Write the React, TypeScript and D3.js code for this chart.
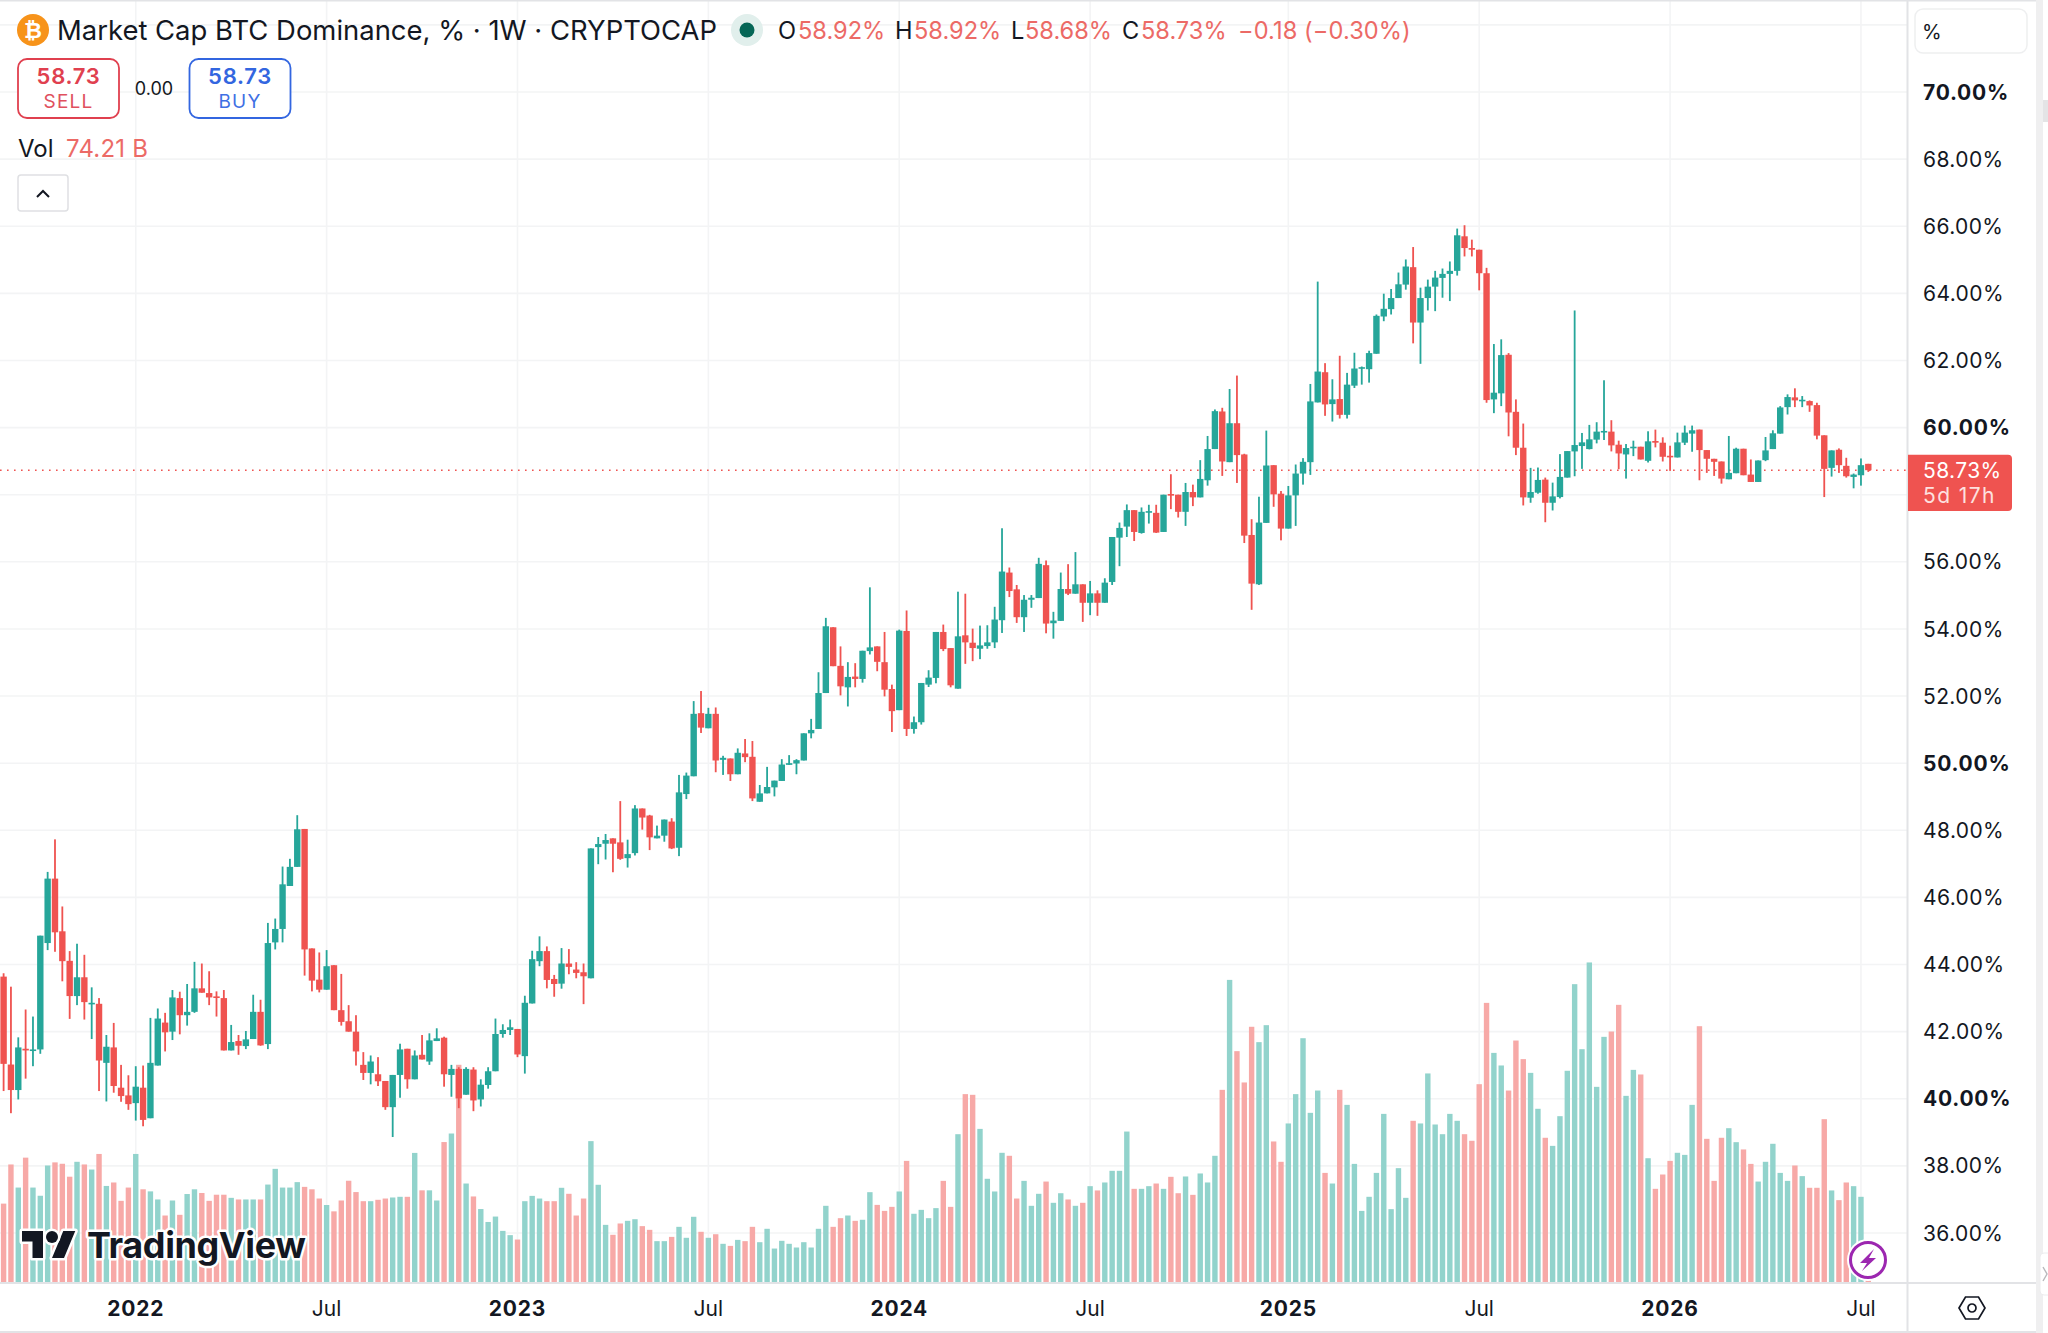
import * as d3 from "d3";

// weekly candles, oldest first (percent)
const opens = [
  43.64,41.02,40.26,41.49,41.44,41.47,44.64,46.56,44.99,44.11,
  43.06,43.62,42.83,42.83,41.07,41.53,40.33,40.10,39.87,40.33,
  39.42,40.99,42.27,42.00,43.00,42.49,42.59,43.29,43.15,43.05,
  43.00,41.44,41.72,41.57,41.78,42.59,41.63,44.66,45.06,46.34,
  46.91,48.04,44.48,43.55,43.25,43.98,42.64,42.31,42.00,41.01,
  40.77,40.73,40.53,39.75,40.71,41.49,40.58,41.31,41.11,41.72,
  41.82,40.71,40.89,40.12,40.87,39.98,40.41,40.82,41.93,42.05,
  42.08,41.27,42.84,44.10,44.40,43.57,43.43,44.03,43.85,43.77,
  43.59,47.50,47.60,47.76,47.64,47.17,47.32,48.65,48.44,47.76,
  47.84,48.26,47.48,49.08,49.61,51.49,51.04,51.47,50.10,50.14,
  49.67,50.29,50.19,48.85,49.10,49.28,49.47,49.95,49.99,50.08,
  50.89,51.02,52.09,54.05,52.90,52.26,52.58,52.51,53.34,53.48,
  53.01,52.21,51.58,53.94,51.02,51.22,52.34,52.54,53.91,53.43,
  52.22,53.81,53.59,53.41,53.49,53.60,54.26,55.68,55.18,54.35,
  54.87,54.92,55.90,54.17,54.24,55.19,55.05,55.33,54.78,55.06,
  54.78,55.40,56.72,57.05,57.54,56.86,57.47,57.46,56.89,58.02,
  58.00,57.49,58.08,57.92,58.43,59.36,60.48,58.97,60.13,59.20,
  56.80,55.33,57.16,58.88,58.03,56.99,57.98,58.63,58.97,60.75,
  61.65,60.70,60.85,60.38,61.25,61.76,61.74,62.20,63.31,63.53,
  63.86,64.26,64.78,63.13,63.86,64.20,64.46,64.58,64.67,65.70,
  65.35,65.30,64.60,60.84,61.02,62.17,60.47,59.40,57.91,58.06,
  58.45,57.76,57.93,58.51,59.29,59.45,59.36,59.64,59.87,59.88,
  59.49,59.20,59.39,59.43,59.01,59.60,59.55,59.16,59.11,59.55,
  59.82,59.94,59.33,59.07,58.99,58.46,58.64,59.37,58.60,58.38,
  59.03,59.36,59.82,60.61,60.90,60.79,60.79,60.67,59.77,58.80,
  59.34,58.86,58.53,58.58,58.92,
];
const highs = [
  43.74,43.34,41.83,42.66,42.45,44.86,46.76,47.73,45.73,44.40,
  44.62,44.29,43.32,43.00,41.90,42.26,41.01,40.70,40.97,40.99,
  42.41,42.69,42.56,43.24,43.19,43.42,44.08,44.03,43.80,43.20,
  43.24,42.20,41.90,42.02,43.10,42.95,45.24,45.37,46.92,47.15,
  48.45,48.04,44.48,44.36,44.43,43.98,43.72,42.79,42.49,41.39,
  41.29,41.24,40.53,40.71,41.64,41.49,41.44,41.90,41.95,42.10,
  41.85,41.01,40.94,40.94,40.94,40.58,40.94,42.39,42.22,42.36,
  42.08,43.07,44.41,44.84,44.54,43.69,44.49,44.46,44.07,44.03,
  47.46,47.80,47.89,47.76,48.87,47.72,48.75,48.65,48.46,48.14,
  48.32,48.36,49.65,49.72,51.85,52.15,51.65,51.66,50.22,50.14,
  50.44,50.72,50.66,49.35,49.89,49.48,50.12,50.24,50.12,50.89,
  51.32,52.71,54.33,54.05,53.48,53.01,52.98,53.35,55.24,53.48,
  53.91,52.34,53.98,54.55,51.39,52.39,52.77,53.91,54.13,53.43,
  55.11,55.05,54.01,54.10,54.11,54.66,57.00,55.83,55.31,55.01,
  55.01,56.12,56.04,54.51,55.68,55.93,56.29,55.33,55.43,55.15,
  55.51,56.74,57.17,57.71,57.54,57.62,57.70,57.70,58.00,58.61,
  58.00,58.35,58.30,59.03,59.75,60.54,60.59,61.15,61.55,59.22,
  57.27,57.94,59.91,58.88,58.11,58.26,58.90,59.09,61.30,64.35,
  61.92,61.44,62.14,61.63,62.23,61.82,62.29,63.37,63.99,64.13,
  64.62,65.01,65.38,64.17,64.41,64.67,64.74,64.95,65.93,66.03,
  65.60,65.30,64.76,62.49,62.63,62.22,60.84,60.12,58.80,58.81,
  58.51,58.36,59.21,59.30,63.49,59.84,60.08,60.16,61.41,60.22,
  59.61,59.51,59.61,59.43,59.89,59.94,59.71,59.46,59.85,60.06,
  60.06,59.94,59.33,59.07,58.99,59.75,59.40,59.37,59.05,59.02,
  59.72,59.92,60.64,60.99,61.17,60.94,60.81,60.74,59.77,59.32,
  59.38,59.10,58.63,59.08,58.92,
];
const lows = [
  40.23,39.57,39.98,40.60,40.97,41.34,44.43,44.38,43.50,42.38,
  42.79,42.36,41.78,40.23,39.92,40.18,39.91,39.67,39.35,39.18,
  39.42,40.99,41.41,41.75,41.92,42.18,42.56,43.16,42.79,42.45,
  41.44,41.44,41.31,41.48,41.78,41.58,41.48,44.45,44.66,46.34,
  46.91,43.67,43.20,43.17,43.25,42.64,42.18,42.00,40.99,40.56,
  40.43,40.38,39.67,38.86,40.03,40.30,40.58,41.17,41.01,41.72,
  40.36,40.06,39.72,40.12,39.63,39.77,40.30,40.82,41.82,41.90,
  41.24,40.75,42.84,43.95,43.29,43.04,43.28,43.71,43.59,42.82,
  43.59,46.99,47.13,46.75,47.12,46.89,47.25,48.02,47.41,47.76,
  47.66,47.44,47.23,48.93,49.61,50.90,51.04,49.73,49.65,49.47,
  49.67,50.03,48.87,48.85,49.10,49.01,49.47,49.95,49.67,50.08,
  50.74,51.02,52.09,52.89,52.02,51.69,52.26,52.40,53.24,52.74,
  51.99,50.93,51.58,50.81,50.88,51.15,52.27,52.38,53.34,52.26,
  52.22,52.96,53.04,53.10,53.41,53.43,53.88,54.95,54.18,53.91,
  54.63,54.92,53.87,53.71,54.24,55.01,55.05,54.21,54.41,54.39,
  54.78,55.31,55.87,56.74,56.62,56.84,57.14,56.86,56.89,57.57,
  57.32,57.07,57.66,57.92,58.27,59.36,58.56,58.97,58.35,56.56,
  54.57,55.31,57.16,57.64,56.64,56.99,57.07,58.30,58.59,60.75,
  60.35,60.18,60.27,60.27,61.18,61.28,61.34,62.20,63.17,63.37,
  63.86,64.11,62.51,61.90,63.49,63.47,63.87,63.77,64.53,65.10,
  65.10,64.09,60.74,60.43,60.64,59.74,59.18,57.68,57.76,58.03,
  57.18,57.53,57.89,58.51,58.55,58.77,59.35,59.53,59.63,59.29,
  58.76,58.48,59.15,59.05,58.96,59.41,58.99,58.71,59.11,59.48,
  59.28,58.43,58.65,58.56,58.33,58.46,58.64,58.58,58.38,58.38,
  59.00,59.36,59.82,60.39,60.61,60.61,60.47,59.65,57.93,58.54,
  58.65,58.51,58.19,58.27,58.68,
];
const closes = [
  41.04,40.26,41.53,41.44,41.47,44.86,46.56,44.96,44.10,43.06,
  43.62,42.88,42.86,41.14,41.55,40.38,40.08,39.84,40.36,39.37,
  41.07,42.39,41.98,43.02,42.49,42.59,43.29,43.16,43.02,43.01,
  41.44,41.69,41.58,41.77,42.59,41.59,44.64,45.06,46.39,46.91,
  48.03,44.45,43.52,43.25,43.95,42.64,42.29,42.00,41.41,40.77,
  41.11,40.52,39.75,40.71,41.47,40.58,41.29,41.17,41.74,41.80,
  40.73,40.89,40.01,40.89,39.95,40.42,40.82,41.93,42.05,42.13,
  41.32,42.86,44.16,44.40,43.54,43.42,44.03,43.93,43.75,43.65,
  47.46,47.59,47.71,47.60,47.15,47.29,48.65,48.38,47.79,47.84,
  48.32,47.46,49.13,49.63,51.47,51.06,51.47,50.08,50.16,49.67,
  50.31,50.18,48.95,49.10,49.29,49.48,49.96,50.00,50.09,50.89,
  50.99,52.09,54.08,52.89,52.29,52.57,52.51,53.35,53.45,53.02,
  52.19,51.55,53.95,51.02,51.22,52.39,52.55,53.91,53.40,52.32,
  53.78,53.60,53.43,53.51,53.60,54.28,55.71,55.13,54.35,54.87,
  54.93,55.94,54.16,54.25,55.19,55.05,55.33,54.78,55.06,54.78,
  55.38,56.74,57.01,57.54,56.89,57.49,57.51,56.87,58.00,57.99,
  57.49,58.08,57.92,58.47,59.36,60.49,58.99,60.13,59.18,56.78,
  55.35,57.17,58.87,58.01,56.99,57.98,58.63,58.98,60.78,61.67,
  60.69,60.84,60.38,61.28,61.76,61.80,62.22,63.33,63.54,63.86,
  64.27,64.80,63.13,63.86,64.20,64.47,64.58,64.67,65.73,65.35,
  65.30,64.60,60.82,61.04,62.16,60.45,59.40,57.92,58.08,58.44,
  57.76,57.95,58.53,59.30,59.48,59.56,59.65,59.88,59.90,59.47,
  59.23,59.39,59.43,59.05,59.59,59.55,59.13,59.13,59.56,59.85,
  59.92,59.33,59.07,58.98,58.48,58.65,59.37,58.58,58.38,59.02,
  59.32,59.83,60.60,60.91,60.81,60.83,60.66,59.76,58.77,59.32,
  58.88,58.55,58.60,58.88,58.73,
];
// no volume axis in the chart, so these are relative bar heights
const volumes = [
  68.3,102.2,82.2,108.1,82.2,75.1,101.3,104.0,102.8,91.6,
  104.5,102.2,97.8,111.3,83.6,86.6,70.7,82.2,111.3,80.7,
  78.9,71.9,58.0,71.0,58.6,76.6,80.7,77.5,70.7,76.0,
  76.0,73.3,71.9,71.9,71.9,71.9,84.8,98.4,82.2,82.2,
  86.9,82.8,80.7,72.7,67.1,61.6,71.0,88.1,78.3,70.4,
  70.4,71.6,72.7,73.6,74.2,74.2,112.2,79.8,79.8,71.0,
  121.6,129.0,188.5,85.7,74.5,63.6,52.4,57.1,44.7,41.0,
  37.2,70.4,75.0,72.7,70.4,70.4,82.0,76.8,58.0,72.7,
  122.4,84.6,49.9,41.3,51.1,53.4,54.8,48.8,45.6,35.8,
  35.8,39.5,48.2,38.7,56.9,43.9,38.7,41.8,33.5,31.7,
  36.9,35.8,48.2,34.9,46.5,29.4,36.1,33.5,30.3,34.9,
  30.3,46.5,66.4,48.2,55.7,58.0,53.4,54.3,78.2,67.2,
  62.0,65.5,78.8,105.3,59.5,62.9,55.7,64.4,88.0,65.5,
  128.4,163.1,162.5,133.0,89.8,78.8,112.3,109.7,72.7,88.0,
  66.4,76.8,87.4,69.0,77.3,71.9,66.4,69.0,83.4,79.7,
  86.6,96.7,96.7,130.7,81.1,81.1,83.4,85.7,81.1,91.5,
  77.3,91.8,75.9,94.4,86.6,109.7,166.8,262.0,200.3,173.2,
  221.4,208.1,222.8,122.1,104.5,137.7,163.1,211.5,146.9,166.2,
  94.9,85.7,166.8,153.8,102.7,62.0,74.2,94.9,146.0,63.5,
  99.0,73.3,140.0,137.7,181.0,136.8,128.4,146.0,140.0,128.4,
  122.7,171.7,242.1,198.8,187.9,166.2,209.5,193.4,181.5,150.4,
  125.3,118.3,144.0,183.3,258.3,202.0,277.1,169.4,212.7,217.3,
  240.4,161.6,184.1,180.1,107.6,81.1,93.5,105.3,112.3,110.5,
  153.8,221.9,124.4,88.0,125.3,133.6,121.5,115.2,102.7,87.4,
  104.5,120.1,94.9,88.0,101.3,92.1,82.0,82.0,141.4,79.7,
  71.3,86.6,83.4,74.2,24,
];

const priceTicks = [72, 70, 68, 66, 64, 62, 60, 58, 56, 54, 52, 50, 48, 46, 44, 42, 40, 38, 36];
const boldPrices = [70, 60, 50, 40];
// 72 sits above the visible labels and 58 is covered by the last price tag
const hiddenPriceLabels = [72, 58];
const timeTicks = [
  { week: 18, label: "2022", bold: true },
  { week: 44, label: "Jul", bold: false },
  { week: 70, label: "2023", bold: true },
  { week: 96, label: "Jul", bold: false },
  { week: 122, label: "2024", bold: true },
  { week: 148, label: "Jul", bold: false },
  { week: 175, label: "2025", bold: true },
  { week: 201, label: "Jul", bold: false },
  { week: 227, label: "2026", bold: true },
  { week: 253, label: "Jul", bold: false },
];
const lastPrice = 58.73;

const UP = "#26a69a";
const DOWN = "#ef5350";
const UP_VOL = "#92d3cc";
const DOWN_VOL = "#f7a9a7";
const GRID = "#f3f4f5";
const BORDER = "#e2e3e6";
const INK = "#131722";
const SOFT_RED = "#ec6a66";
const FONT = "Inter, 'Noto Sans', sans-serif";

const paneRight = 1907.5;
const paneBottom = 1282.5;

const x = d3.scaleLinear().domain([0, opens.length - 1]).range([3.6, 1868.3]);
const y = d3.scaleLinear().domain([70, 36]).range([92, 1233]);
const yVol = d3.scaleLinear().domain([0, 300]).range([paneBottom, paneBottom - 346.5]);

const bodyWidth = 6.4;
const volWidth = 5.4;

export default function App() {
  return (
    <svg
      width={2048}
      height={1333}
      viewBox="0 0 2048 1333"
      style={{ position: "absolute", left: 0, top: 0, display: "block", background: "#fff" }}
      fontFamily={FONT}
    >
      <defs>
        <clipPath id="pane">
          <rect x={0} y={0} width={paneRight} height={paneBottom} />
        </clipPath>
      </defs>

      {/* grid */}
      <g stroke={GRID} strokeWidth={1.6}>
        {priceTicks.map((p) => (
          <line key={p} x1={0} x2={paneRight} y1={y(p)} y2={y(p)} />
        ))}
        {timeTicks.map((t) => (
          <line key={t.week} x1={x(t.week)} x2={x(t.week)} y1={0} y2={paneBottom} />
        ))}
      </g>

      {/* volume */}
      <g clipPath="url(#pane)">
        {volumes.map((v, i) => (
          <rect
            key={i}
            x={x(i) - volWidth / 2}
            width={volWidth}
            y={yVol(v)}
            height={paneBottom - yVol(v)}
            fill={closes[i] >= opens[i] ? UP_VOL : DOWN_VOL}
          />
        ))}
      </g>

      {/* last price line */}
      <line
        x1={0}
        x2={paneRight}
        y1={y(lastPrice)}
        y2={y(lastPrice)}
        stroke={DOWN}
        strokeWidth={1.5}
        strokeDasharray="1.6 5.4"
      />

      {/* candles */}
      <g clipPath="url(#pane)">
        {opens.map((o, i) => {
          const c = closes[i];
          const color = c >= o ? UP : DOWN;
          const top = y(Math.max(o, c));
          const bottom = y(Math.min(o, c));
          return (
            <g key={i} fill={color}>
              <rect x={x(i) - 0.9} width={1.8} y={y(highs[i])} height={y(lows[i]) - y(highs[i])} />
              <rect x={x(i) - bodyWidth / 2} width={bodyWidth} y={top} height={Math.max(bottom - top, 1.6)} />
            </g>
          );
        })}
      </g>

      {/* TradingView mark */}
      <g stroke="#fff" strokeWidth={5} strokeLinejoin="round" style={{ paintOrder: "stroke" }} fill="#131722">
        <g transform="translate(22,1225) scale(1.5)" strokeWidth={3.4}>
          <path d="M14 22H7V11H0V4h14v18zM28 22h-8l7.5-18h8L28 22z" />
          <circle cx={20} cy={8} r={4} />
        </g>
        <text x={87} y={1258} fontSize={36} fontWeight={700} letterSpacing={-0.4} fontFamily="Inter, sans-serif">
          TradingView
        </text>
      </g>

      {/* lightning badge */}
      <g transform="translate(1868,1260)">
        <circle r={21} fill="#fff" />
        <circle r={17.5} fill="#fff" stroke="#9c27b0" strokeWidth={3} />
        <path d="M6 -11 L-8 3 L-1 3 L-6 11 L8 -2 L1 -2 Z" fill="#9c27b0" />
      </g>

      {/* frame */}
      <g stroke={BORDER} strokeWidth={2} fill="none">
        <line x1={paneRight} x2={paneRight} y1={0} y2={1332} />
        <line x1={0} x2={2036} y1={paneBottom + 0.5} y2={paneBottom + 0.5} />
        <line x1={0} x2={2036} y1={1332} y2={1332} />
        <line x1={0} x2={2036} y1={0.5} y2={0.5} />
      </g>
      <rect x={2036} y={0} width={7} height={1333} fill="#efeff0" />
      <rect x={2043} y={100} width={5} height={22} fill="#e4e4e6" />
      <rect x={2040} y={1253} width={12} height={42} rx={4} fill="#fff" stroke="#ececee" />
      <path d="M2043 1267 L2047 1274 L2043 1281" fill="none" stroke="#b8b8bc" strokeWidth={1.4} />

      {/* price axis */}
      <rect x={1915} y={9} width={112} height={44} rx={8} fill="#fff" stroke="#eeeff0" strokeWidth={1.5} />
      <text x={1922} y={39} fontSize={20} fill={INK}>%</text>
      {priceTicks.filter((p) => !hiddenPriceLabels.includes(p)).map((p) => {
        const bold = boldPrices.includes(p);
        return (
          <text
            key={p}
            x={1923}
            y={y(p)}
            dy="0.36em"
            fontSize={21}
            fontWeight={bold ? 700 : 400}
            fill={INK}
            letterSpacing={bold ? 0.75 : 0.4}
          >
            {p.toFixed(2)}%
          </text>
        );
      })}
      <path
        d={`M1908 ${y(lastPrice) - 15.5} H2008 a4 4 0 0 1 4 4 V507 a4 4 0 0 1 -4 4 H1908 Z`}
        fill={DOWN}
      />
      <text x={1923} y={y(lastPrice)} dy="0.36em" fontSize={21} fill="#fff" letterSpacing={0.4}>
        {lastPrice.toFixed(2)}%
      </text>
      <text x={1923} y={503} fontSize={21} fill="#fde0df" letterSpacing={1.4}>5d 17h</text>

      {/* time axis */}
      {timeTicks.map((t) => (
        <text
          key={t.week}
          x={x(t.week)}
          y={1316}
          textAnchor="middle"
          fontSize={21}
          fontWeight={t.bold ? 700 : 400}
          fill={INK}
          letterSpacing={t.bold ? 0.8 : 0}
        >
          {t.label}
        </text>
      ))}

      {/* settings */}
      <g transform="translate(1972,1308)" fill="none" stroke={INK} strokeWidth={1.7}>
        <path d="M-13 0 L-6.5 -11 L6.5 -11 L13 0 L6.5 11 L-6.5 11 Z" />
        <circle r={4} />
      </g>

      {/* header */}
      <circle cx={33} cy={30} r={16} fill="#f7931a" />
      <text x={33} y={38} textAnchor="middle" fontSize={22} fontWeight={700} fill="#fff" fontFamily="'DejaVu Sans', sans-serif">
        ₿
      </text>
      <text x={57} y={40} fontSize={27.45} fill={INK}>
        Market Cap BTC Dominance, % · 1W · CRYPTOCAP
      </text>
      <ellipse cx={747} cy={30} rx={16} ry={16} fill="#e1efec" />
      <circle cx={747} cy={30} r={7.5} fill="#056656" />

      {[
        { k: "O", kx: 778, v: "58.92%", vx: 798 },
        { k: "H", kx: 895, v: "58.92%", vx: 914 },
        { k: "L", kx: 1011, v: "58.68%", vx: 1025 },
        { k: "C", kx: 1122, v: "58.73%", vx: 1141 },
      ].map((d) => (
        <g key={d.k} fontSize={23.6}>
          <text x={d.kx} y={39} fill={INK}>{d.k}</text>
          <text x={d.vx} y={39} fill={SOFT_RED}>{d.v}</text>
        </g>
      ))}
      <text x={1238} y={39} fontSize={23.6} fill={SOFT_RED} letterSpacing={0.1}>−0.18 (−0.30%)</text>

      <rect x={18} y={59} width={101} height={59} rx={9} fill="#fff" stroke="#e0404f" strokeWidth={1.8} />
      <text x={68.5} y={84} textAnchor="middle" fontSize={22} fontWeight={600} fill="#e0404f" letterSpacing={0.7}>58.73</text>
      <text x={68.5} y={108} textAnchor="middle" fontSize={19} fill="#e0505e" letterSpacing={1.2}>SELL</text>
      <text x={154} y={95} textAnchor="middle" fontSize={18} fill={INK}>0.00</text>
      <rect x={189.5} y={59} width={101} height={59} rx={9} fill="#fff" stroke="#3366e0" strokeWidth={1.8} />
      <text x={240} y={84} textAnchor="middle" fontSize={22} fontWeight={600} fill="#3366e0" letterSpacing={0.7}>58.73</text>
      <text x={240} y={108} textAnchor="middle" fontSize={19} fill="#3f70e4" letterSpacing={1.2}>BUY</text>

      <text x={18} y={157} fontSize={24} fill={INK}>Vol</text>
      <text x={66} y={157} fontSize={24} fill={SOFT_RED} letterSpacing={0.2}>74.21 B</text>

      <rect x={18} y={175} width={50} height={36} rx={3} fill="#fff" stroke="#dfe0e3" strokeWidth={1.5} />
      <path d="M37 197 L43 191 L49 197" fill="none" stroke={INK} strokeWidth={2} />
    </svg>
  );
}
